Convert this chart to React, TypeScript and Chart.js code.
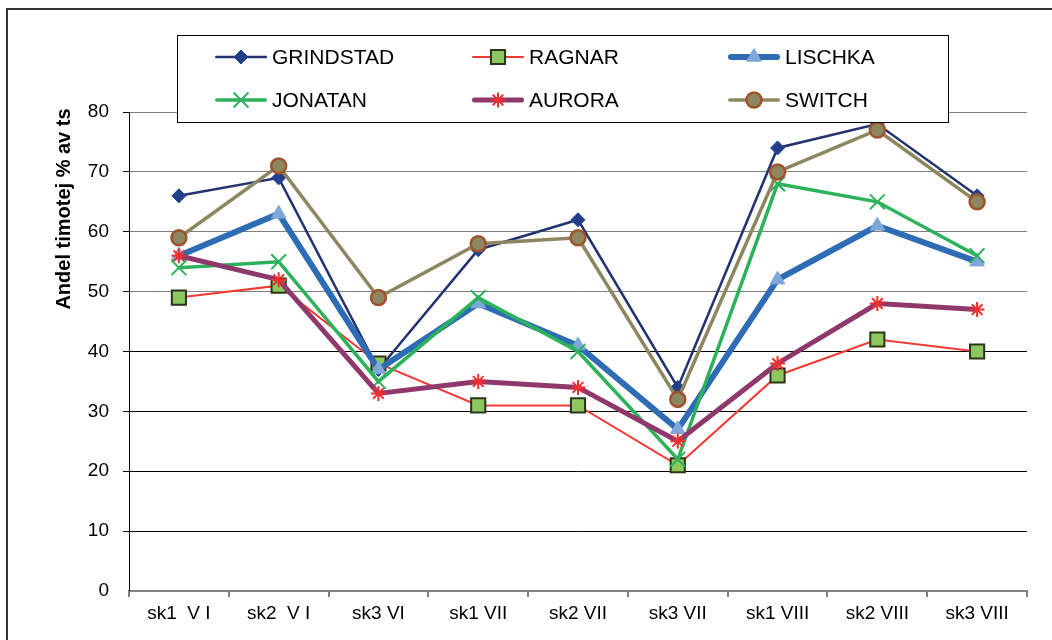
import React, { useEffect, useRef } from "react";
import { Chart, registerables } from "chart.js";

Chart.register(...registerables);

const categories = ["sk1  V I", "sk2  V I", "sk3 VI", "sk1 VII", "sk2 VII", "sk3 VII", "sk1 VIII", "sk2 VIII", "sk3 VIII"];
const grindstad = [66, 69, 37, 57, 62, 34, 74, 78, 66];
const ragnar = [49, 51, 38, 31, 31, 21, 36, 42, 40];
const lischka = [56, 63, 37, 48, 41, 27, 52, 61, 55];
const jonatan = [54, 55, 35, 49, 40, 22, 68, 65, 56];
const aurora = [56, 52, 33, 35, 34, 25, 38, 48, 47];
const switchV = [59, 71, 49, 58, 59, 32, 70, 77, 65];
const yTicks = [0, 10, 20, 30, 40, 50, 60, 70, 80];
const yTitle = "Andel timotej % av ts";

const FONT = '"Liberation Sans", Arial, sans-serif';

type Sty = {
  label: string;
  data: number[];
  line: string;
  lw: number;
  shape: string;
  r: number;
  fill: string;
  stroke: string;
  bw: number;
};

const series: Sty[] = [
  { label: "GRINDSTAD", data: grindstad, line: "#24336f", lw: 2.5, shape: "rectRot", r: 7, fill: "#233f8c", stroke: "#233f8c", bw: 1 },
  { label: "RAGNAR", data: ragnar, line: "#f03a32", lw: 2, shape: "rect", r: 10, fill: "#8cc85f", stroke: "#2b3419", bw: 2 },
  { label: "LISCHKA", data: lischka, line: "#2e6db5", lw: 6, shape: "triangle", r: 8.5, fill: "#7fa7da", stroke: "#7fa7da", bw: 1 },
  { label: "JONATAN", data: jonatan, line: "#2db25c", lw: 3.5, shape: "crossRot", r: 10.5, fill: "#2db25c", stroke: "#2db25c", bw: 2 },
  { label: "AURORA", data: aurora, line: "#8e386c", lw: 5, shape: "star", r: 7.5, fill: "#f22f2f", stroke: "#f22f2f", bw: 2 },
  { label: "SWITCH", data: switchV, line: "#8c8760", lw: 3.5, shape: "circle", r: 7.5, fill: "#8c8760", stroke: "#a0522d", bw: 2.5 },
];

function drawMarker(ctx: CanvasRenderingContext2D, s: Sty, x: number, y: number) {
  const r = s.r;
  ctx.save();
  ctx.fillStyle = s.fill;
  ctx.strokeStyle = s.stroke;
  ctx.lineWidth = s.bw;
  ctx.beginPath();
  if (s.shape === "circle") {
    ctx.arc(x, y, r, 0, Math.PI * 2);
    ctx.fill();
    ctx.stroke();
  } else if (s.shape === "rect") {
    const h = r * Math.SQRT1_2;
    ctx.rect(x - h, y - h, 2 * h, 2 * h);
    ctx.fill();
    ctx.stroke();
  } else if (s.shape === "rectRot") {
    ctx.moveTo(x, y - r);
    ctx.lineTo(x + r, y);
    ctx.lineTo(x, y + r);
    ctx.lineTo(x - r, y);
    ctx.closePath();
    ctx.fill();
    ctx.stroke();
  } else if (s.shape === "triangle") {
    const a = (Math.PI * 2) / 3;
    ctx.moveTo(x, y - r);
    ctx.lineTo(x + Math.sin(a) * r, y - Math.cos(a) * r);
    ctx.lineTo(x - Math.sin(a) * r, y - Math.cos(a) * r);
    ctx.closePath();
    ctx.fill();
    ctx.stroke();
  } else if (s.shape === "crossRot") {
    const o = r * Math.SQRT1_2;
    ctx.moveTo(x - o, y - o);
    ctx.lineTo(x + o, y + o);
    ctx.moveTo(x - o, y + o);
    ctx.lineTo(x + o, y - o);
    ctx.stroke();
  } else if (s.shape === "star") {
    const o = r * Math.SQRT1_2;
    ctx.moveTo(x - o, y - o);
    ctx.lineTo(x + o, y + o);
    ctx.moveTo(x - o, y + o);
    ctx.lineTo(x + o, y - o);
    ctx.moveTo(x, y - r);
    ctx.lineTo(x, y + r);
    ctx.moveTo(x - r, y);
    ctx.lineTo(x + r, y);
    ctx.stroke();
  }
  ctx.restore();
}

const decorPlugin = {
  id: "decor",
  afterDatasetsDraw(chart: any) {
    const ctx: CanvasRenderingContext2D = chart.ctx;
    // legend box
    ctx.save();
    ctx.fillStyle = "#ffffff";
    ctx.strokeStyle = "#000000";
    ctx.lineWidth = 1;
    ctx.fillRect(177.5, 35.5, 771, 87);
    ctx.strokeRect(177.5, 35.5, 771, 87);
    const cols = [215, 472, 728];
    const rows = [57, 100];
    series.forEach((s, i) => {
      const x0 = cols[i % 3];
      const y0 = rows[Math.floor(i / 3)];
      ctx.save();
      ctx.strokeStyle = s.line;
      ctx.lineWidth = s.lw;
      ctx.lineCap = "round";
      ctx.beginPath();
      ctx.moveTo(x0 + s.lw / 2, y0);
      ctx.lineTo(x0 + 52 - s.lw / 2, y0);
      ctx.stroke();
      ctx.restore();
      drawMarker(ctx, s, x0 + 26, y0);
      ctx.fillStyle = "#000";
      ctx.font = "21px " + FONT;
      ctx.textBaseline = "middle";
      ctx.textAlign = "left";
      ctx.fillText(s.label, x0 + 57, y0 + 1);
    });
    ctx.restore();
  },
  afterDraw(chart: any) {
    const ctx: CanvasRenderingContext2D = chart.ctx;
    ctx.save();
    // y-axis title
    ctx.translate(64, 209);
    ctx.rotate(-Math.PI / 2);
    ctx.fillStyle = "#000";
    ctx.font = "bold 20px " + FONT;
    ctx.textAlign = "center";
    ctx.textBaseline = "middle";
    ctx.fillText(yTitle, 0, 0);
    ctx.restore();
    // outer frame
    ctx.save();
    ctx.strokeStyle = "#333333";
    ctx.lineWidth = 2;
    ctx.strokeRect(7, 9, 2000, 2000);
    ctx.restore();
  },
};

export default function App() {
  const ref = useRef<HTMLCanvasElement | null>(null);
  useEffect(() => {
    if (!ref.current) return;
    const chart = new Chart(ref.current, {
      type: "line",
      data: {
        labels: categories,
        datasets: series.map((s, i) => ({
          label: s.label,
          data: s.data,
          borderColor: s.line,
          borderWidth: s.lw,
          backgroundColor: s.fill,
          pointStyle: s.shape as any,
          pointRadius: s.r,
          pointBackgroundColor: s.fill,
          pointBorderColor: s.stroke,
          pointBorderWidth: s.bw,
          tension: 0,
          fill: false,
          order: series.length - i,
        })),
      },
      options: {
        responsive: false,
        animation: false,
        layout: { padding: { left: 50, right: 25, top: 112, bottom: 0 } },
        plugins: { legend: { display: false }, tooltip: { enabled: false } },
        scales: {
          x: {
            offset: true,
            grid: { offset: true, drawOnChartArea: false, color: "#808080", lineWidth: 2, tickLength: 6 },
            border: { color: "#808080", width: 2 },
            ticks: { color: "#000", font: { family: FONT, size: 19 }, padding: 5, maxRotation: 0, autoSkip: false },
            afterFit: (scale: any) => {
              scale.height = 49;
            },
          },
          y: {
            min: 0,
            max: 80,
            afterBuildTicks: (scale: any) => {
              scale.ticks = yTicks.map((v) => ({ value: v }));
            },
            grid: {
              color: (c: any) => (c.tick && c.tick.value >= 50 ? "#7f7f7f" : "#000000"),
              tickColor: "#000000",
              lineWidth: (c: any) => (c.tick && c.tick.value === 0 ? 0 : 1),
              tickLength: 6,
            },
            border: { color: "#000", width: 1 },
            ticks: { color: "#000", font: { family: FONT, size: 19 }, padding: 14 },
            afterFit: (scale: any) => {
              scale.width = 79;
            },
          },
        },
      },
      plugins: [decorPlugin],
    });
    return () => chart.destroy();
  }, []);
  return (
    <div style={{ position: "absolute", left: 0, top: 0, width: 1052, height: 640, background: "#fff" }}>
      <canvas ref={ref} width={1052} height={640} style={{ display: "block" }} />
    </div>
  );
}
